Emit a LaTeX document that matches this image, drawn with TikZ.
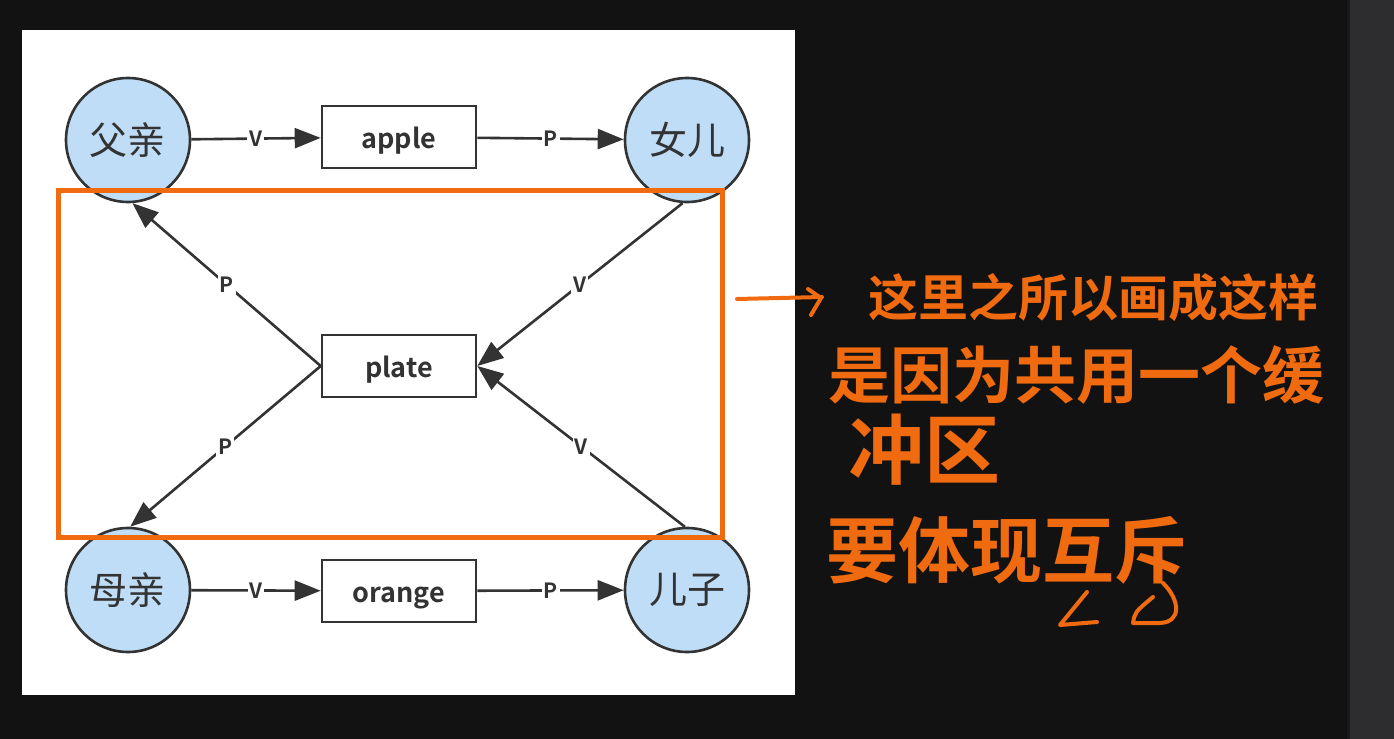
\documentclass[tikz,border=0pt]{standalone}
\usepackage{fontspec}
\setmainfont{Noto Sans CJK SC}[BoldFont={Noto Sans CJK SC Bold}]
\usetikzlibrary{arrows.meta,calc}
\definecolor{screen}{HTML}{121212}
\definecolor{sidebar}{HTML}{2D2D30}
\definecolor{ink}{HTML}{333333}
\definecolor{bubble}{HTML}{BFDDF7}
\definecolor{marker}{HTML}{F06A10}

\begin{document}
\begin{tikzpicture}[x=.5pt,y=-.5pt,>={Triangle[length=13pt,width=10pt]},
 person/.style={circle,draw=ink,line width=1.3pt,fill=bubble,minimum size=62pt,inner sep=0pt,
  text=ink,font=\fontsize{19}{19}\selectfont},
 dish/.style={draw=ink,line width=1.3pt,fill=white,minimum width=77pt,minimum height=31pt,
  inner sep=0pt,text height=1.3em,text depth=.15em,text=ink,font=\bfseries\fontsize{13.5}{13.5}\selectfont},
 flow/.style={ink,line width=1.3pt,->},
 elabel/.style={fill=white,inner sep=1pt,text=ink,font=\bfseries\fontsize{10.5}{10.5}\selectfont},
 note/.style={marker,anchor=west,inner sep=0pt},
 pen/.style={marker,line width=2pt,line cap=round,line join=round}]
 % screen, white page and side bar
 \useasboundingbox (0,0) rectangle (1394,739);
 \fill[screen] (0,0) rectangle (1394,739);
 \fill[sidebar] (1350,0) rectangle (1394,739);
 \fill[black!90] (1347,0) rectangle (1350,739);
 \fill[white] (22,30) rectangle (795,695);
 % people and fruit
 \node[person] (father) at (128,140) {父亲};
 \node[person] (daughter) at (687,140) {女儿};
 \node[person] (mother) at (128,590) {母亲};
 \node[person] (son) at (687,590) {儿子};
 \node[dish] (apple) at (399,137) {apple};
 \node[dish] (plate) at (399,366) {plate};
 \node[dish] (orange) at (399,591) {orange};
 \draw[flow] (father) -- (apple) node[midway,elabel] {V};
 \draw[flow] (apple) -- (daughter) node[midway,elabel] {P};
 \draw[flow] (mother) -- (orange) node[midway,elabel] {V};
 \draw[flow] (orange) -- (son) node[midway,elabel] {P};
 \draw[flow] (plate.west) -- (father.-86) node[midway,elabel] {P};
 \draw[flow] (plate.west) -- (mother.88) node[midway,elabel] {P};
 \draw[flow] (daughter.-94) -- (plate.east) node[midway,elabel] {V};
 \draw[flow] (son.92) -- (plate.east) node[midway,elabel] {V};
 % hand notes
 \draw[marker,line width=2.5pt] (58,190) rectangle (722,537);
 \draw[pen] (737,299) -- (822,297);
 \draw[pen] (808,289) -- (821,298) -- (811,315);
 \node[note,font=\bfseries\fontsize{25}{25}\selectfont] (note1) at (868,297) {这里之所以画成这样};
 \node[note,font=\bfseries\fontsize{31}{31}\selectfont] (note2) at (828,375) {是因为共用一个缓};
 \node[note,font=\bfseries\fontsize{38}{38}\selectfont] (note3) at (848,450) {冲区};
 \node[note,font=\bfseries\fontsize{36}{36}\selectfont] (note4) at (826,550) {要体现互斥};
 \draw[pen] (1087,592) -- (1060,625) -- (1097,622);
 \draw[pen] (1163,583) .. controls (1180,600) and (1182,622) .. (1160,623)
  -- (1133,623) .. controls (1135,612) .. (1153,597);
\end{tikzpicture}
\end{document}
